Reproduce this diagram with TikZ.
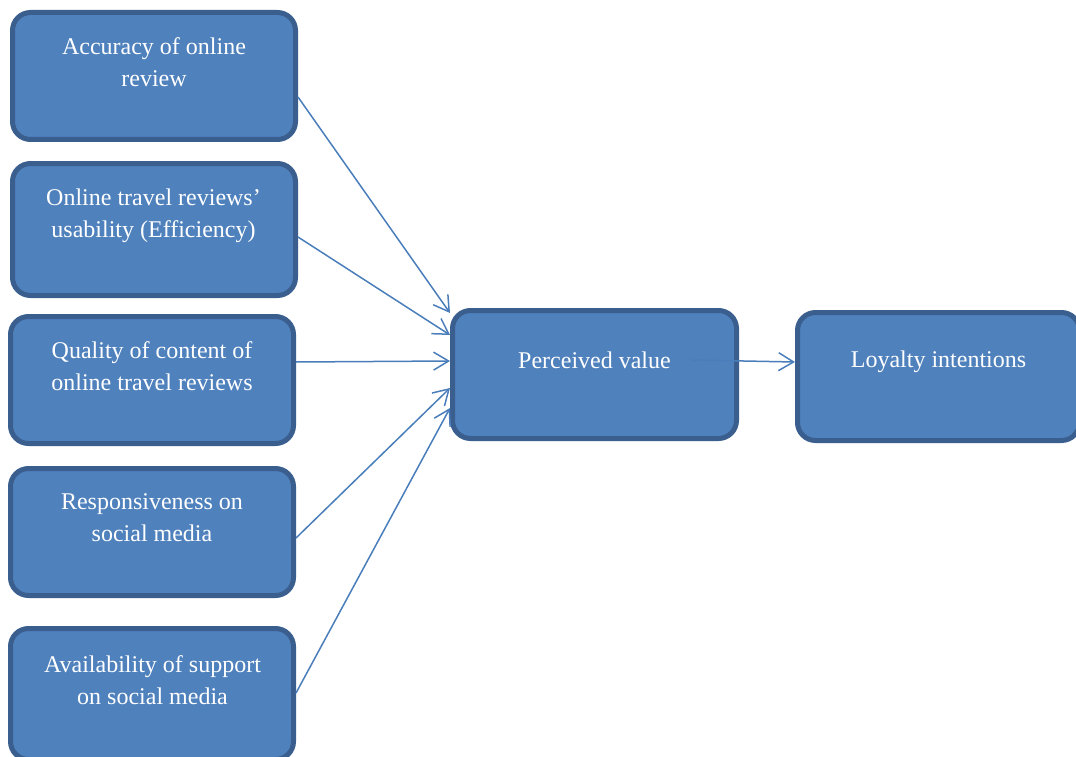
\documentclass[tikz,border=0pt]{standalone}
\usepackage{fontspec}
\setmainfont{Liberation Serif}
\usetikzlibrary{arrows.meta,calc}
\definecolor{boxfill}{HTML}{4F81BD}
\definecolor{boxline}{HTML}{3A5F8E}
\definecolor{arrowc}{HTML}{4A7EBB}
\tikzset{
  box/.style={draw=boxline, fill=boxfill, line width=5pt, rounded corners=18pt,
    minimum width=283pt, minimum height=127pt, inner sep=0pt},
  txt/.style={text=white, align=center, font=\fontsize{24}{32}\selectfont, inner sep=0pt},
  link/.style={draw=arrowc, line width=1.5pt, -{Straight Barb[length=15pt,width=18pt,line width=1.5pt]}}
}
\begin{document}
\begin{tikzpicture}[x=1pt,y=-1pt]
\useasboundingbox (0,0) rectangle (1076,757);
\node[box, minimum height=127pt] (b1) at (154,76) {};
\node[box, minimum height=132pt] (b2) at (154,229.5) {};
\node[box, minimum height=127pt] (b3) at (152,380) {};
\node[box, minimum height=127pt] (b4) at (152,532) {};
\node[box, minimum height=131pt] (b5) at (152,694) {};
\node[box, minimum width=284pt, minimum height=128pt] (pv) at (594.5,374.5) {};
\node[box, minimum width=282pt, minimum height=128pt] (li) at (938.5,376.5) {};

\node[txt] (t1) at (154,62) {Accuracy of online\\review};
\node[txt] (t2) at (153.5,216) {Online travel reviews’\\usability (Efficiency)};
\node[txt] (t3) at (152,366) {Quality of content of\\online travel reviews};
\node[txt] (t4) at (152,518) {Responsiveness on\\social media};
\node[txt] (t5) at (152.5,680) {Availability of support\\on social media};
\node[txt] (t6) at (594.5,360) {Perceived value};
\node[txt] (t7) at (938.5,362) {Loyalty intentions};

\draw[link] ([yshift=-21pt]b1.east) -- ([yshift=61.5pt]pv.west);
\draw[link] ([yshift=-7.5pt]b2.east) -- ([yshift=39.5pt]pv.west);
\draw[link] ([yshift=18pt]b3.east) -- ([yshift=13.5pt]pv.west);
\draw[link] ([yshift=-6pt]b4.east) -- ([yshift=-13.5pt]pv.west);
\draw[link] ([yshift=1pt]b5.east) -- ([yshift=-33.5pt]pv.west);
\draw[link] ([xshift=-47pt,yshift=14.5pt]pv.east) -- ([yshift=14.5pt]li.west);
\end{tikzpicture}
\end{document}
